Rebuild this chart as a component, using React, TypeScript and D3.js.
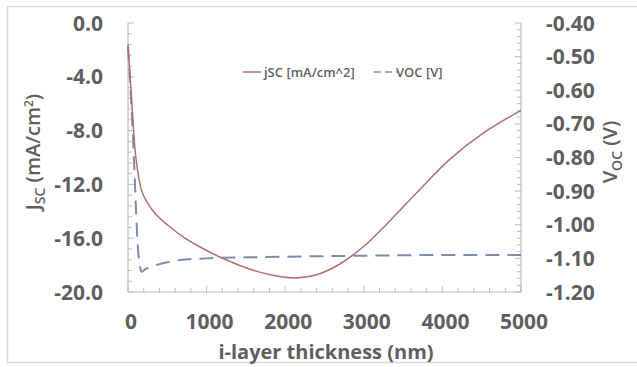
import React from "react";
import * as d3 from "d3";

const thickness = [0, 50, 100, 175, 250, 350, 500, 700, 900, 1170, 1500, 1800, 2100, 2400, 2700, 3000, 3300, 3675, 4100, 4515, 5000];
const jsc = [-1.6, -6.0, -10.0, -12.5, -13.4, -14.2, -15.0, -15.9, -16.6, -17.4, -18.2, -18.7, -18.95, -18.72, -17.9, -16.6, -14.9, -12.6, -10.1, -8.2, -6.5];

const vocThickness = [0, 60, 130, 175, 220, 320, 660, 1000, 1500, 2000, 3000, 4000, 5000];
const voc = [-0.47, -0.72, -1.08, -1.14, -1.132, -1.123, -1.105, -1.1, -1.097, -1.095, -1.092, -1.09, -1.09];

const xTicks = [0, 1000, 2000, 3000, 4000, 5000];
const jTicks = [0, -4, -8, -12, -16, -20];
const vTicks = [-0.4, -0.5, -0.6, -0.7, -0.8, -0.9, -1.0, -1.1, -1.2];

const W = 637, H = 367;
const L = 128, R = 521, T = 23, B = 292;
const TXT = "#5f5f5f";
const AX = "#bdbdbd";
const RED = "#b46e6e";
const BLUE = "#7d8db0";
const FONT = "'Open Sans', sans-serif";

export default function App() {
  const x = d3.scaleLinear().domain([0, 5000]).range([L, R]);
  const yJ = d3.scaleLinear().domain([-20, 0]).range([B, T]);
  const yV = d3.scaleLinear().domain([-1.2, -0.4]).range([B, T]);

  const jLine = d3.line<number>().x((_, i) => x(thickness[i])).y((d) => yJ(d)).curve(d3.curveCatmullRom.alpha(0.5))(jsc) || "";
  const vLine = d3.line<number>().x((_, i) => x(vocThickness[i])).y((d) => yV(d)).curve(d3.curveMonotoneX)(voc) || "";

  const xMinor = d3.range(0, 5001, 200);
  const jMinor = d3.range(0, 26).map((i) => -i * 0.8);
  const vMinor = d3.range(0, 41).map((i) => -0.4 - i * 0.02);

  return (
    <svg width={W} height={H} style={{ position: "absolute", left: 0, top: 0, background: "#fff" }}>
      <rect x={7.5} y={6.5} width={640} height={356} fill="#fff" stroke="#d9d9d9" strokeWidth={1.5} />
      {/* axes */}
      <line x1={L} x2={L} y1={T} y2={B} stroke={AX} strokeWidth={1.2} />
      <line x1={R} x2={R} y1={T} y2={B} stroke={AX} strokeWidth={1.2} />
      <line x1={L} x2={R} y1={B} y2={B} stroke={AX} strokeWidth={1.2} />
      {jMinor.map((v, i) => (
        <line key={"jm" + i} x1={L} x2={L + (i % 5 === 0 ? 6 : 4)} y1={yJ(v)} y2={yJ(v)} stroke={AX} strokeWidth={1} />
      ))}
      {vMinor.map((v, i) => (
        <line key={"vm" + i} x1={R} x2={R - (i % 5 === 0 ? 6 : 4)} y1={yV(v)} y2={yV(v)} stroke={AX} strokeWidth={1} />
      ))}
      {xMinor.map((v, i) => (
        <line key={"xm" + i} x1={x(v)} x2={x(v)} y1={B} y2={B - (v % 1000 === 0 ? 6 : 4)} stroke={AX} strokeWidth={1} />
      ))}
      {/* tick labels */}
      {jTicks.map((v) => (
        <text key={"jt" + v} x={103} y={yJ(v)} dy="0.36em" textAnchor="end" fontFamily={FONT} fontWeight={700} fontSize={21} fill={TXT}>
          {v === 0 ? "0.0" : v.toFixed(1)}
        </text>
      ))}
      {vTicks.map((v) => (
        <text key={"vt" + v} x={546} y={yV(v)} dy="0.36em" textAnchor="start" fontFamily={FONT} fontWeight={700} fontSize={21} fill={TXT}>
          {v.toFixed(2)}
        </text>
      ))}
      {xTicks.map((v) => (
        <text key={"xt" + v} x={x(v) + 3} y={321} dy="0.36em" textAnchor="middle" fontFamily={FONT} fontWeight={700} fontSize={21} fill={TXT}>
          {v}
        </text>
      ))}
      {/* axis titles */}
      <text x={326} y={352} dy="0.36em" textAnchor="middle" fontFamily={FONT} fontWeight={700} fontSize={20} fill={TXT}>
        i-layer thickness (nm)
      </text>
      <text transform="translate(40,152) rotate(-90)" textAnchor="middle" fontFamily={FONT} fontWeight={600} fontSize={20} fill={TXT}>
        J<tspan fontSize={14} dy={5}>SC</tspan>
        <tspan dy={-5}> (mA/cm</tspan>
        <tspan fontSize={12} dy={-7}>2</tspan>
        <tspan dy={7}>)</tspan>
      </text>
      <text transform="translate(617,152) rotate(-90)" textAnchor="middle" fontFamily={FONT} fontWeight={600} fontSize={20} fill={TXT}>
        V<tspan fontSize={14} dy={5}>OC</tspan>
        <tspan dy={-5}> (V)</tspan>
      </text>
      {/* lines */}
      <path d={vLine} fill="none" stroke={BLUE} strokeWidth={2} strokeDasharray="14 8" />
      <path d={jLine} fill="none" stroke={RED} strokeWidth={1.5} />
      {/* legend */}
      <line x1={243} x2={261} y1={72} y2={72} stroke={RED} strokeWidth={1.5} />
      <text x={264} y={72} dy="0.36em" fontFamily={FONT} fontWeight={600} fontSize={13} fill={TXT}>
        jSC [mA/cm^2]
      </text>
      <line x1={374} x2={399} y1={72} y2={72} stroke={BLUE} strokeWidth={1.5} strokeDasharray="7 4" />
      <text x={396} y={72} dy="0.36em" fontFamily={FONT} fontWeight={600} fontSize={13} fill={TXT}>
        VOC [V]
      </text>
    </svg>
  );
}
